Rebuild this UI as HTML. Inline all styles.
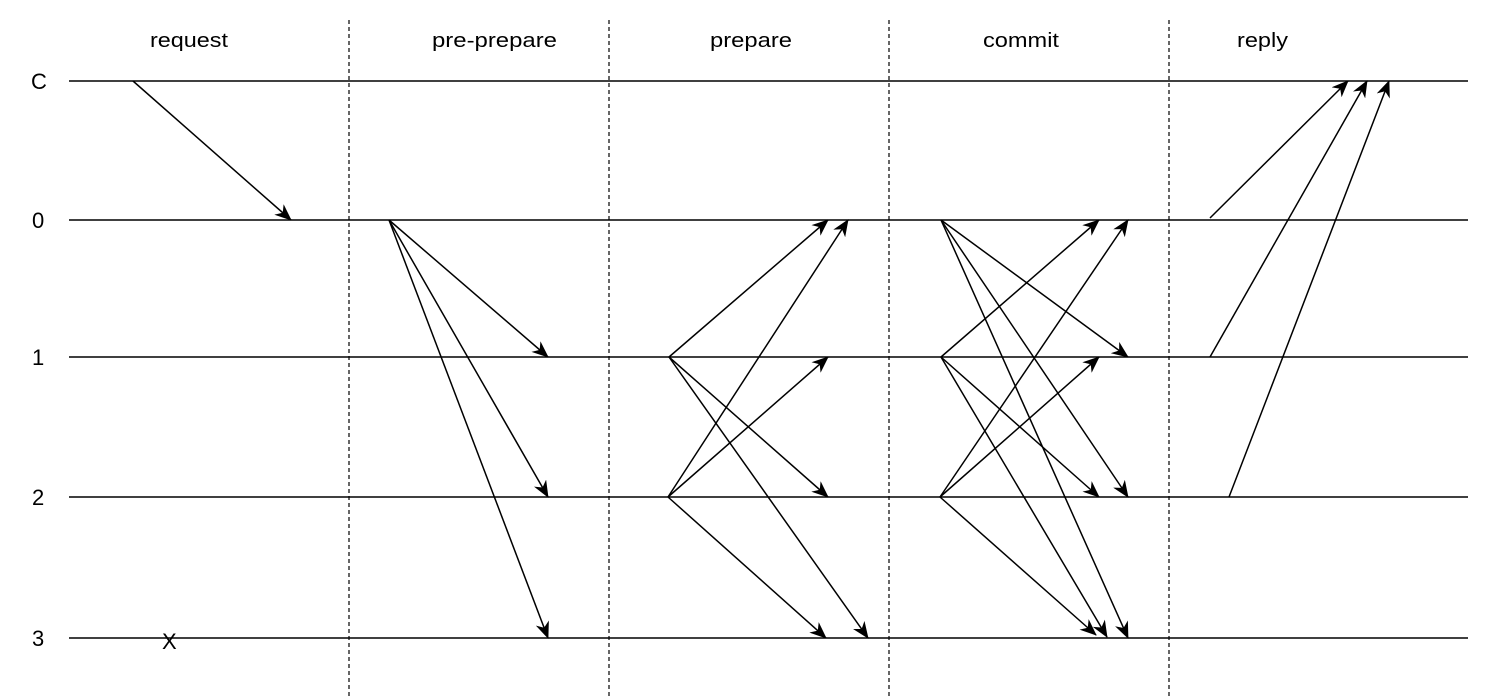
<!DOCTYPE html>
<html><head><meta charset="utf-8"><style>
html,body{margin:0;padding:0;background:#fff;}
svg{display:block;}
text{font-family:"Liberation Sans",Arial,sans-serif;fill:#000;}
.t{font-size:20px;}
.r{font-size:22px;}
</style></head><body>
<svg width="1504" height="698" viewBox="0 0 1504 698" xmlns="http://www.w3.org/2000/svg">
<defs>
<marker id="a" viewBox="0 0 17 14" refX="16" refY="7" markerWidth="17" markerHeight="14" markerUnits="userSpaceOnUse" orient="auto">
<path d="M0,0 L17,7 L0,14 L5,7 Z" fill="#000"/>
</marker>
</defs>
<g stroke="#000" stroke-width="1.6">
<line x1="69" y1="81" x2="1468" y2="81"/>
<line x1="69" y1="220" x2="1468" y2="220"/>
<line x1="69" y1="357" x2="1468" y2="357"/>
<line x1="69" y1="497" x2="1468" y2="497"/>
<line x1="69" y1="638" x2="1468" y2="638"/>
</g>
<g stroke="#000" stroke-width="1.2" stroke-dasharray="4,3">
<line x1="349" y1="20" x2="349" y2="698"/>
<line x1="609" y1="20" x2="609" y2="698"/>
<line x1="889" y1="20" x2="889" y2="698"/>
<line x1="1169" y1="20" x2="1169" y2="698"/>
</g>
<text class="t" x="150" y="47" textLength="78" lengthAdjust="spacingAndGlyphs">request</text>
<text class="t" x="432" y="47" textLength="125" lengthAdjust="spacingAndGlyphs">pre-prepare</text>
<text class="t" x="710" y="47" textLength="82" lengthAdjust="spacingAndGlyphs">prepare</text>
<text class="t" x="983" y="47" textLength="76" lengthAdjust="spacingAndGlyphs">commit</text>
<text class="t" x="1237" y="47" textLength="51" lengthAdjust="spacingAndGlyphs">reply</text>
<text class="r" x="31" y="89">C</text>
<text class="r" x="32" y="228">0</text>
<text class="r" x="32" y="365">1</text>
<text class="r" x="32" y="505">2</text>
<text class="r" x="32" y="646">3</text>
<text class="r" x="162" y="649">X</text>
<g stroke="#000" stroke-width="1.5" marker-end="url(#a)">
<line x1="133" y1="81" x2="291" y2="220"/>
<line x1="389" y1="220" x2="548" y2="357"/>
<line x1="389" y1="220" x2="548" y2="497"/>
<line x1="389" y1="220" x2="548" y2="638"/>
<line x1="669" y1="357" x2="828" y2="220"/>
<line x1="669" y1="357" x2="828" y2="497"/>
<line x1="669" y1="357" x2="868" y2="638"/>
<line x1="668" y1="497" x2="848" y2="220"/>
<line x1="668" y1="497" x2="828" y2="357"/>
<line x1="668" y1="497" x2="826" y2="638"/>
<line x1="941" y1="220" x2="1128" y2="357"/>
<line x1="941" y1="220" x2="1128" y2="497"/>
<line x1="941" y1="220" x2="1128" y2="638"/>
<line x1="941" y1="357" x2="1099" y2="220"/>
<line x1="941" y1="357" x2="1099" y2="497"/>
<line x1="941" y1="357" x2="1107" y2="637"/>
<line x1="940" y1="497" x2="1128" y2="220"/>
<line x1="940" y1="497" x2="1099" y2="357"/>
<line x1="940" y1="497" x2="1096" y2="635"/>
<line x1="1210" y1="218" x2="1348" y2="81"/>
<line x1="1210" y1="357" x2="1367" y2="81"/>
<line x1="1229" y1="497" x2="1389" y2="81"/>
</g>
</svg>
</body></html>
